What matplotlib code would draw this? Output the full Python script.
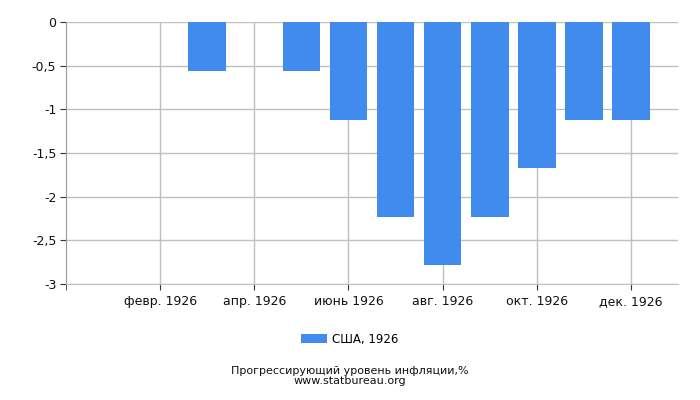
import matplotlib
matplotlib.use("Agg")
import matplotlib.pyplot as plt
import numpy as np

months = ["янв. 1926", "февр. 1926", "март 1926", "апр. 1926", "май 1926", "июнь 1926",
          "июль 1926", "авг. 1926", "сент. 1926", "окт. 1926", "нояб. 1926", "дек. 1926"]
values = [0, 0, -0.56, 0, -0.56, -1.12, -2.23, -2.78, -2.23, -1.67, -1.12, -1.12]
yticks = [0, -0.5, -1, -1.5, -2, -2.5, -3]
ytick_labels = ["0", "-0,5", "-1", "-1,5", "-2", "-2,5", "-3"]
series_name = "США, 1926"

plt.rcParams['font.family'] = ['DejaVu Sans']
fig = plt.figure(figsize=(7, 4), dpi=100)
ax = fig.add_axes([66/700, 1-284/400, (678-66)/700, (284-22)/400])

x = np.arange(1, len(months) + 1)
ax.bar(x, values, width=0.8, color="#418BEE", label=series_name, zorder=3)

ax.set_xlim(0, 13)
ax.set_ylim(-3, 0)
ax.set_yticks(yticks)
ax.set_yticklabels(ytick_labels, fontsize=9)
xt = x[1::2]
ax.set_xticks(list(xt))
ax.set_xticklabels([months[i-1] for i in xt], fontsize=9)
ax.set_xticks([0], minor=True)
ax.tick_params(axis='x', which='minor', length=4, color="#333333")

ax.grid(True, color="#c0c0c0", linewidth=1, zorder=0)
for s in ["top", "right"]:
    ax.spines[s].set_visible(False)
ax.spines["bottom"].set_color("#c0c0c0")
ax.spines["left"].set_color("#999999")
ax.tick_params(axis='both', length=4, color="#333333", labelcolor="#111111")
ax.tick_params(axis='x', pad=4)
ax.tick_params(axis='y', pad=3)

leg = ax.legend(loc="center", bbox_to_anchor=((350 - 66) / 612, -(339 - 284) / 262), frameon=False,
                fontsize=8.5, handlelength=2.2, handleheight=0.9, handletextpad=0.4, borderaxespad=0)

fig.text(350/700, 1-376/400, "Прогрессирующий уровень инфляции,%\nwww.statbureau.org",
         ha="center", va="center", fontsize=8, color="#111111", linespacing=0.95)

fig.savefig("out.png", dpi=100, facecolor="white")
